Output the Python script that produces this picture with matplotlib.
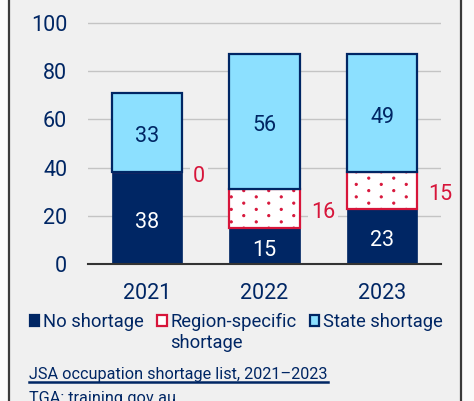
import matplotlib
matplotlib.use("Agg")
import numpy as np
import matplotlib.pyplot as plt
import matplotlib.hatch as mhatch
from matplotlib.path import Path
from matplotlib.patches import Rectangle
from matplotlib.lines import Line2D

plt.rcParams['font.family'] = ['Roboto', 'DejaVu Sans']
plt.rcParams['hatch.linewidth'] = 0.7


class StaggeredDots(mhatch.HatchPatternBase):
    """Small filled dots on a staggered lattice (wide columns, close rows)."""
    cols = 4
    rows = 16
    radius = 0.011

    def __init__(self, hatch, density):
        n = hatch.count('.')
        circle = Path.unit_circle()
        self.shape_vertices = circle.vertices
        self.shape_codes = circle.codes
        if n == 0:
            self.centers = []
            self.num_vertices = 0
        else:
            centers = []
            for j in range(self.rows):
                for i in range(self.cols):
                    cx = (i + 0.25 + 0.5 * (j % 2)) / self.cols
                    cy = (j + 0.5) / self.rows
                    centers.append((cx, cy))
            self.centers = centers
            self.num_vertices = len(centers) * len(self.shape_vertices)

    def set_vertices_and_codes(self, vertices, codes):
        nv = len(self.shape_vertices)
        sv = self.shape_vertices * self.radius
        cursor = 0
        for cx, cy in self.centers:
            vertices[cursor:cursor + nv] = sv + (cx, cy)
            codes[cursor:cursor + nv] = self.shape_codes
            cursor += nv


mhatch._hatch_types = [t for t in mhatch._hatch_types
                       if t is not mhatch.SmallFilledCircles] + [StaggeredDots]

# Data
years = ["2021", "2022", "2023"]
no_shortage = [38, 15, 23]
region_specific = [0, 16, 15]
state_shortage = [33, 56, 49]
series_names = ["No shortage", "Region-specific", "State shortage"]
series_name_wrap = "shortage"
yticks = [0, 20, 40, 60, 80, 100]
source_title = "JSA occupation shortage list, 2021\u20132023"
source_sub = "TGA: training.gov.au"

NAVY = '#002664'
LBLUE = '#8CE0FF'
RED = '#D7153A'
BG = '#F0F0F0'

W, H = 474, 401
fig = plt.figure(figsize=(W / 100, H / 100), dpi=100)
fig.patch.set_facecolor('#FAFAFA')
fig.patches.append(Rectangle((9 / W, -0.05), (461 - 9) / W, 1.1, transform=fig.transFigure,
                             facecolor=BG, edgecolor='#3A3A3A', linewidth=1.6, zorder=-10))

ax = fig.add_axes([88 / W, 137 / H, 353 / W, 253.05 / H])
ax.set_facecolor('none')
x = list(range(len(years)))
bw = 0.6

b1 = ax.bar(x, no_shortage, width=bw, color=NAVY, edgecolor=NAVY, linewidth=0.5)
bottom2 = no_shortage
b2 = ax.bar(x, region_specific, width=bw, bottom=bottom2, color='white', edgecolor=RED,
            linewidth=1.6, hatch='.')
bottom3 = [a + b for a, b in zip(no_shortage, region_specific)]
b3 = ax.bar(x, state_shortage, width=bw, bottom=bottom3, color=LBLUE, edgecolor=NAVY,
            linewidth=1.6)

LBL_FS = 15.5
DY = -3  # points
for xi, v in zip(x, no_shortage):
    ax.annotate(str(v), (xi, v / 2), xytext=(0, DY), textcoords='offset points',
                ha='center', va='center', color='white', fontsize=LBL_FS)
for xi, b, v in zip(x, bottom3, state_shortage):
    ax.annotate(str(v), (xi, b + v / 2), xytext=(0, DY), textcoords='offset points',
                ha='center', va='center', color=NAVY, fontsize=LBL_FS)
for xi, b, v in zip(x, bottom2, region_specific):
    ax.annotate(str(v), (xi + bw / 2, b + v / 2), xytext=(8, DY), textcoords='offset points',
                ha='left', va='center', color=RED, fontsize=LBL_FS,
                bbox=dict(facecolor=BG, edgecolor='none', pad=2))

ax.set_xlim(-0.5, len(years) - 0.5)
ax.set_ylim(0, 105)
ax.set_yticks(yticks)
ax.set_xticks(x)
ax.set_xticklabels(years)
ax.tick_params(axis='both', length=0, colors=NAVY, labelsize=15.5)
ax.tick_params(axis='y', pad=15)
ax.tick_params(axis='x', pad=14)
ax.grid(axis='y', color='#C4C4C4', linewidth=1.0)
ax.set_axisbelow(True)
for s in ['left', 'right', 'top']:
    ax.spines[s].set_visible(False)
ax.spines['bottom'].set_color('#333333')
ax.spines['bottom'].set_linewidth(1.5)
ax.spines['bottom'].set_zorder(5)

leg = fig.legend(handles=[b1, b2, b3], labels=series_names, loc='upper left',
                 bbox_to_anchor=(30 / W, 1 - 313 / H), ncol=3, frameon=False,
                 fontsize=13.2, handlelength=0.5, handleheight=0.5, handletextpad=0.2,
                 columnspacing=0.75, borderpad=0, borderaxespad=0, labelcolor=NAVY)
for h in leg.legend_handles:
    h.set_hatch(None)
    h.set_linewidth(1.6)

t1 = fig.text(29 / W, 1 - 379 / H, source_title, ha='left', va='baseline', color=NAVY, fontsize=11.7)
fig.text(29 / W, 1 - 403 / H, source_sub, ha='left', va='baseline', color=NAVY, fontsize=11.7)

fig.canvas.draw()
bb = t1.get_window_extent()
fig.add_artist(Line2D([bb.x0 / W, bb.x1 / W], [1 - 381.5 / H, 1 - 381.5 / H],
                      transform=fig.transFigure, color=NAVY, linewidth=1.8))
lb = leg.get_texts()[1].get_window_extent()
fig.text(lb.x0 / W, (lb.y0 - 21) / H, series_name_wrap, ha='left', va='bottom',
         color=NAVY, fontsize=13.2)

fig.savefig('out.png', dpi=100, facecolor=fig.get_facecolor())
